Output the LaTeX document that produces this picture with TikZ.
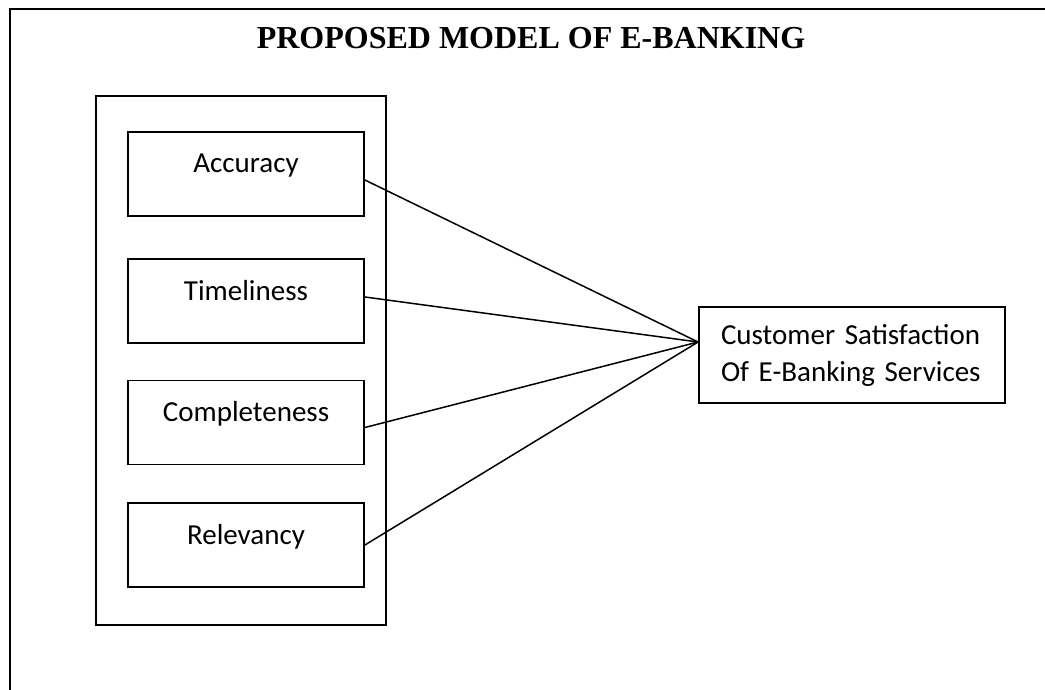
\documentclass[tikz,border=0pt]{standalone}
\usepackage{fontspec}
\setmainfont{Carlito}
\newfontfamily\titlefont{Liberation Serif}

\begin{document}
\begin{tikzpicture}[x=1pt,y=-1pt]
		\tikzset{faktor/.style={rectangle, draw=black, line width=1.8pt, inner sep=0pt, text width=236pt, align=center, text height=41pt, text depth=43pt, font=\fontsize{29}{37}\selectfont}}
		\useasboundingbox (0,0) rectangle (1045,690);

		% page frame, runs off the right and bottom
		\draw[line width=2pt] (10,695) -- (10,9) -- (1050,9);
		\node[anchor=base, font=\titlefont\bfseries\fontsize{32}{36}\selectfont] at (531,49) (titel) {PROPOSED MODEL OF E-BANKING};

		\node[draw=black, line width=1.8pt, minimum width=290pt, minimum height=529pt, inner sep=0pt] at (241,360.5) (grp) {};

        \node[faktor] at (246,174) (acc) {Accuracy};
        \node[faktor] at (246,301) (time) {Timeliness};
        \node[faktor] at (246,422.5) (comp) {Completeness\hspace*{28pt}};
        \node[faktor] at (246,545) (rel) {Relevancy};

        \node[draw=black, line width=1.8pt, inner xsep=22pt, inner ysep=0pt, text width=262pt, align=left, text height=37pt, text depth=59pt, font=\fontsize{29}{37}\selectfont] at (852,355) (cs) {Customer Satisfaction\\Of E-Banking Services};
        \coordinate (hub) at ([yshift=13pt]cs.west);

			\draw [line width=1.5pt] ([yshift=-6pt]acc.east) -- (hub);
			\draw [line width=1.5pt] ([yshift=4pt]time.east) -- (hub);
			\draw [line width=1.5pt] ([yshift=-5pt]comp.east) -- (hub);
			\draw [line width=1.5pt] (rel.east) -- (hub);

	\end{tikzpicture}
\end{document}
